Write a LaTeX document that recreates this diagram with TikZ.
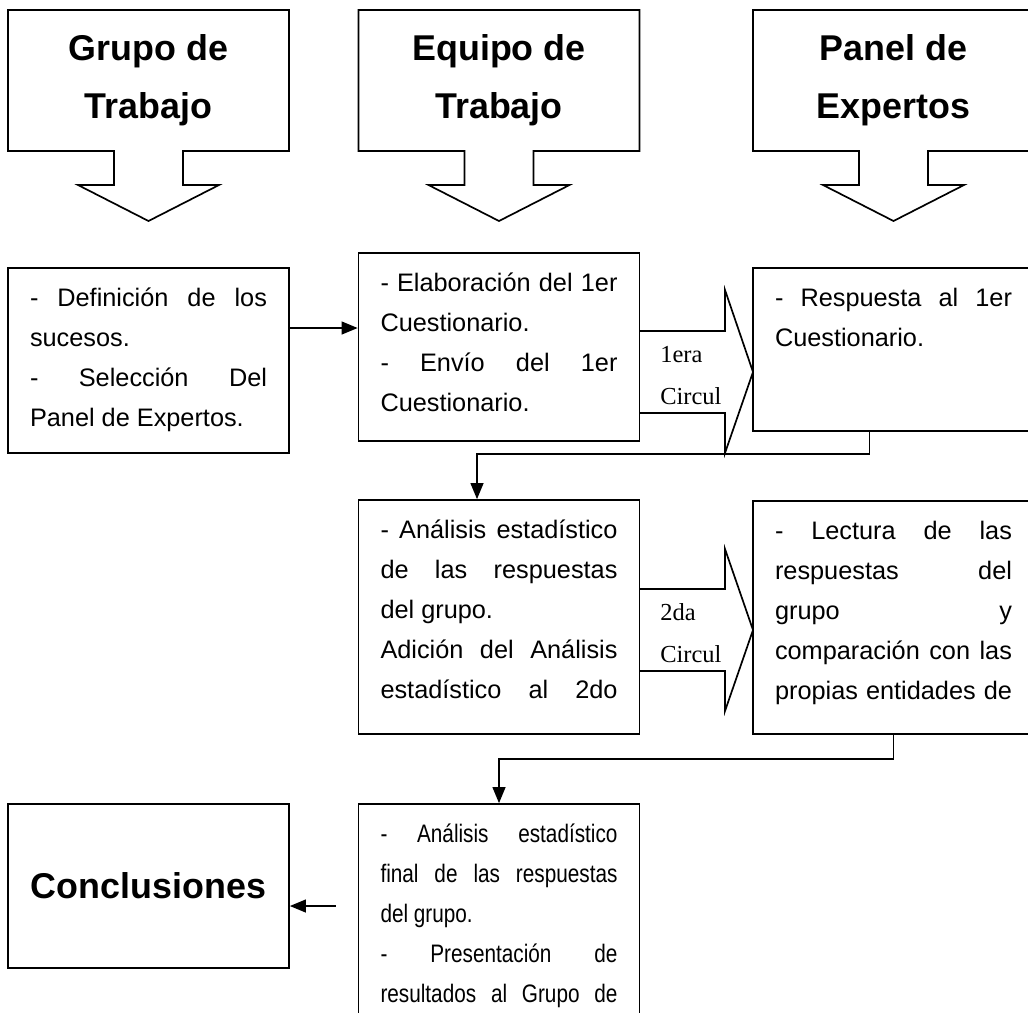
\documentclass[tikz,border=0pt]{standalone}
\usepackage{fontspec}
\setmainfont{Liberation Sans}
\newfontfamily\labelfont{Liberation Serif}
\newfontfamily\narrowfont[FakeStretch=0.82]{Liberation Sans}
\usetikzlibrary{positioning, arrows.meta}
\hyphenpenalty=10000
\exhyphenpenalty=10000
\tolerance=10000
\newcommand{\firstline}{\rule{0pt}{0.95cm}}
\newcommand{\fillpar}{\parfillskip=0pt\par}

\begin{document}
\begin{tikzpicture}[callout/.style={
                line width=1.2pt,
                line join=miter,
        },
        head/.style={font=\fontsize{25.5}{41.3}\selectfont\bfseries, align=center},
        textbox/.style={draw, line width=1.2pt, inner xsep=0.55cm, inner ysep=0pt,
                font=\fontsize{18}{28.45}\selectfont},
        circul/.style={font=\labelfont\fontsize{17.4}{29.9}\selectfont, align=left, anchor=west, inner sep=0pt},
        conn/.style={line width=1.2pt, -{Triangle[length=0.4cm, width=0.32cm]}}]
            \useasboundingbox (0,0) rectangle (25.7,-25.3);
            % callouts at the top
            \draw[callout] (0.2,-3.775) -- ++(0,3.525) -- ++(7.025,0) -- ++(0,-3.525) -- ++(-2.65,0) -- ++(0,-0.85) -- ++(0.9,0) -- ++(-1.7625,-0.9) -- ++(-1.7625,0.9) -- ++(0.9,0) -- ++(0,0.85) -- cycle;
            \draw[callout] (8.9625,-3.775) -- ++(0,3.525) -- ++(7.025,0) -- ++(0,-3.525) -- ++(-2.65,0) -- ++(0,-0.85) -- ++(0.9,0) -- ++(-1.7625,-0.9) -- ++(-1.7625,0.9) -- ++(0.9,0) -- ++(0,0.85) -- cycle;
            \draw[callout] (18.825,-3.775) -- ++(0,3.525) -- ++(7.025,0) -- ++(0,-3.525) -- ++(-2.65,0) -- ++(0,-0.85) -- ++(0.9,0) -- ++(-1.7625,-0.9) -- ++(-1.7625,0.9) -- ++(0.9,0) -- ++(0,0.85) -- cycle;
            \node[head] (grupo) at (3.7125,-2.0) {Grupo de\\Trabajo};
            \node[head] (equipo) at (12.475,-2.0) {Equipo de\\Trabajo};
            \node[head] (panel) at (22.3375,-2.0) {Panel de\\Expertos};

            % boxes
            \node[textbox] (defin) at (3.7125,-9.0125) {\parbox[c][4.625cm][t]{5.925cm}{\firstline - Definición de los\linebreak sucesos.\par - Selección Del\linebreak Panel de Expertos.}};
            \node[textbox] (elab) at (12.475,-8.675) {\parbox[c][4.7cm][t]{5.925cm}{\firstline - Elaboración del 1er\linebreak Cuestionario.\par - Envío del 1er\linebreak Cuestionario.}};
            \node[textbox] (resp) at (22.3375,-8.7375) {\parbox[c][4.075cm][t]{5.925cm}{\firstline - Respuesta al 1er\linebreak Cuestionario.}};
            \node[textbox] (analis) at (12.475,-15.425) {\parbox[c][5.85cm][t]{5.925cm}{\firstline - Análisis estadístico\linebreak de las respuestas\linebreak del grupo.\par Adición del Análisis\linebreak estadístico al 2do\fillpar}};
            \node[textbox] (lect) at (22.3375,-15.4375) {\parbox[c][5.825cm][t]{5.925cm}{\firstline - Lectura de las\linebreak respuestas del\linebreak grupo y\linebreak comparación con las\linebreak propias entidades de\fillpar}};
            \node[textbox] (final) at (12.475,-23.8) {\parbox[c][7.4cm][t]{5.925cm}{\narrowfont\firstline - Análisis estadístico\linebreak final de las respuestas\linebreak del grupo.\par - Presentación de\linebreak resultados al Grupo de\fillpar}};
            \node[draw, line width=1.2pt, minimum width=7.025cm, minimum height=4.1cm, head] (concl) at (3.7125,-22.15) {Conclusiones};

            % block arrows between the columns
            \draw[callout] (15.9875,-8.275) -- (18.125,-8.275) -- (18.125,-7.25) -- (18.825,-9.3) -- (18.125,-11.325) -- (18.125,-10.325) -- (15.9875,-10.325);
            \draw[callout] (15.9875,-14.725) -- (18.125,-14.725) -- (18.125,-13.725) -- (18.825,-15.75) -- (18.125,-17.775) -- (18.125,-16.775) -- (15.9875,-16.775);
            \node[circul] (circ1) at (16.5,-9.4) {1era\\Circul};
            \node[circul] (circ2) at (16.5,-15.825) {2da\\Circul};

            % connectors
            \path ([yshift=0.8125cm]defin.east) coordinate (ab);
            \draw[conn] (ab) -- (ab -| elab.west);
            \draw[conn] ([xshift=-0.6cm]resp.south) -- ++(0,-0.55) -| ([xshift=-0.55cm]analis.north);
            \draw[conn] (lect.south) -- ++(0,-0.6) -| (final.north);
            \path (concl.east) ++(1.15,-0.5) coordinate (toconcl);
            \draw[conn] (toconcl) -- (toconcl -| concl.east);
        \end{tikzpicture}
\end{document}
